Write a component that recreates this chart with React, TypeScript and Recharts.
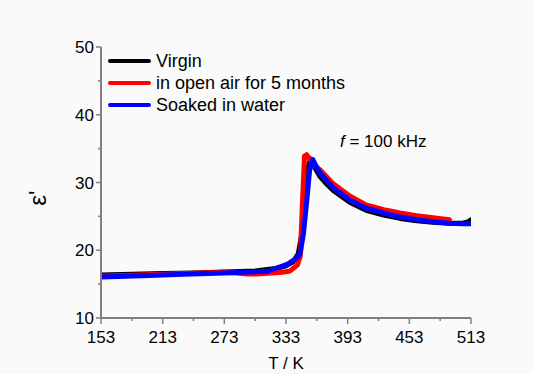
import React from 'react';
import { LineChart, Line, XAxis, YAxis } from 'recharts';

const virginT = [153, 183, 213, 243, 273, 303, 323, 333, 340, 345, 349, 352, 355, 357, 360, 366, 373, 380, 395, 411, 428, 444, 460, 476, 492, 505, 510, 513];
const virginE = [16.35, 16.45, 16.55, 16.65, 16.8, 16.95, 17.3, 17.7, 18.3, 19.5, 23, 28, 32.5, 33.5, 32.5, 30.9, 29.7, 28.7, 27.1, 25.9, 25.2, 24.7, 24.35, 24.15, 24.0, 24.0, 24.2, 24.5];

const openAirT = [153, 213, 273, 285, 295, 305, 315, 327, 337, 344, 347, 349, 351, 353, 355, 360, 366, 379, 395, 411, 428, 444, 460, 476, 492];
const openAirE = [16.15, 16.45, 16.75, 16.65, 16.5, 16.5, 16.6, 16.7, 16.95, 17.8, 19.2, 27, 33.9, 34.1, 33.7, 32.6, 31.9, 29.8, 28.0, 26.7, 26.0, 25.5, 25.1, 24.8, 24.5];

const soakedT = [153, 193, 233, 273, 315, 334, 344, 347, 350, 353, 356, 359, 362, 366, 379, 395, 411, 428, 444, 460, 476, 492, 505, 513];
const soakedE = [16.05, 16.25, 16.45, 16.65, 16.9, 17.9, 18.9, 19.7, 22.5, 27, 31.8, 33.4, 32.5, 31.4, 29.2, 27.4, 26.2, 25.5, 24.9, 24.5, 24.2, 24.0, 23.9, 23.9];

const xTicks = [153, 183, 213, 243, 273, 303, 333, 363, 393, 423, 453, 483, 513];
const yTicks = [10, 15, 20, 25, 30, 35, 40, 45, 50];

const seriesNames = ['Virgin', 'in open air for 5 months', 'Soaked in water'];
const seriesColors = ['#000000', '#ff0000', '#0000ff'];

const toPoints = (t: number[], e: number[]) => t.map((T, i) => ({ T, e: e[i] }));
const virginData = toPoints(virginT, virginE);
const openAirData = toPoints(openAirT, openAirE);
const soakedData = toPoints(soakedT, soakedE);

const FONT = '"Liberation Sans", Arial, sans-serif';
const AXIS = '#808080';

const XTick = (props: any) => {
  const { x, y, payload } = props;
  const major = (payload.value - 153) % 60 === 0;
  return (
    <g>
      <line x1={x} x2={x} y1={y} y2={y + (major ? 6 : 3)} stroke={AXIS} strokeWidth={1.5} />
      {major && (
        <text x={x} y={y + 25} textAnchor="middle" fontSize={17} fontFamily={FONT} fill="#000">
          {payload.value}
        </text>
      )}
    </g>
  );
};

const YTick = (props: any) => {
  const { x, y, payload } = props;
  const major = payload.value % 10 === 0;
  return (
    <g>
      <line x1={x - (major ? 5 : 3)} x2={x} y1={y} y2={y} stroke={AXIS} strokeWidth={1.5} />
      {major && (
        <text x={x - 7} y={y + 6} textAnchor="end" fontSize={17} fontFamily={FONT} fill="#000">
          {payload.value}
        </text>
      )}
    </g>
  );
};

export default function App() {
  return (
    <div style={{ position: 'absolute', left: 0, top: 0, width: 533, height: 374, background: '#fafafa' }}>
      <LineChart width={533} height={374} data={virginData} margin={{ top: 47, right: 62, bottom: 0, left: 0 }}>
        <XAxis
          dataKey="T"
          type="number"
          domain={[153, 513]}
          ticks={xTicks}
          interval={0}
          allowDataOverflow
          height={56}
          tickSize={0}
          tickMargin={0}
          tick={<XTick />}
          tickLine={false}
          axisLine={{ stroke: AXIS, strokeWidth: 2 }}
        />
        <XAxis xAxisId="top" orientation="top" type="number" domain={[153, 513]} height={0} tick={false} tickLine={false} axisLine={{ stroke: AXIS, strokeWidth: 2 }} />
        <YAxis
          type="number"
          domain={[10, 50]}
          ticks={yTicks}
          interval={0}
          allowDataOverflow
          width={101}
          tickSize={0}
          tickMargin={0}
          tick={<YTick />}
          tickLine={false}
          axisLine={{ stroke: AXIS, strokeWidth: 2 }}
        />
        <YAxis yAxisId="right" orientation="right" type="number" domain={[10, 50]} width={0} tick={false} tickLine={false} axisLine={{ stroke: AXIS, strokeWidth: 2 }} />
        <Line data={virginData} dataKey="e" name={seriesNames[0]} stroke={seriesColors[0]} strokeWidth={5} dot={false} isAnimationActive={false} strokeLinejoin="round" strokeLinecap="round" type="linear" />
        <Line data={openAirData} dataKey="e" name={seriesNames[1]} stroke={seriesColors[1]} strokeWidth={5} dot={false} isAnimationActive={false} strokeLinejoin="round" strokeLinecap="round" type="linear" />
        <Line data={soakedData} dataKey="e" name={seriesNames[2]} stroke={seriesColors[2]} strokeWidth={5} dot={false} isAnimationActive={false} strokeLinejoin="round" strokeLinecap="round" type="linear" />
      </LineChart>
      <div style={{ position: 'absolute', left: 108, top: 50, fontFamily: FONT, fontSize: 18, color: '#000' }}>
        {seriesNames.map((n, i) => (
          <div key={n} style={{ display: 'flex', alignItems: 'center', height: 22 }}>
            <div style={{ width: 43, height: 4.5, background: seriesColors[i], borderRadius: 2, marginRight: 5 }} />
            <span style={{ lineHeight: '22px', whiteSpace: 'nowrap' }}>{n}</span>
          </div>
        ))}
      </div>
      <svg width={533} height={374} style={{ position: 'absolute', left: 0, top: 0, pointerEvents: 'none' }}>
        <text x={340} y={147} fontSize={17} fontFamily={FONT} fill="#000">
          <tspan fontStyle="italic">f</tspan>
          <tspan> = 100 kHz</tspan>
        </text>
        <text x={286} y={369} fontSize={17} fontFamily={FONT} fill="#000" textAnchor="middle">T / K</text>
        <text x={0} y={0} fontSize={24} fontFamily={FONT} fill="#000" textAnchor="middle" transform="translate(46 198) rotate(-90)">ε'</text>
      </svg>
    </div>
  );
}
